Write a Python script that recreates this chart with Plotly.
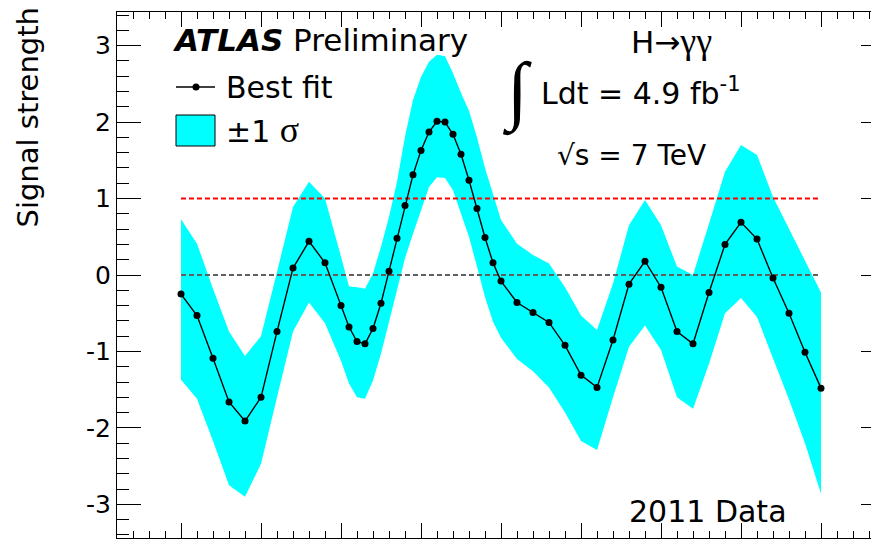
import plotly.graph_objects as go

# ---- data ----
mass = [110, 111, 112, 113, 114, 115, 116, 117, 118, 119,
        120, 120.5, 121, 121.5, 122, 122.5, 123, 123.5, 124, 124.5,
        125, 125.5, 126, 126.5, 127, 127.5, 128, 128.5, 129, 129.5,
        130, 131, 132, 133, 134, 135, 136, 137, 138, 139,
        140, 141, 142, 143, 144, 145, 146, 147, 148, 149, 150]

best_fit = [-0.25, -0.53, -1.09, -1.66, -1.91, -1.60, -0.74, 0.09, 0.44, 0.16,
            -0.40, -0.68, -0.87, -0.90, -0.70, -0.37, 0.05, 0.48, 0.91, 1.31,
            1.63, 1.87, 2.01, 2.00, 1.84, 1.58, 1.24, 0.87, 0.49, 0.16,
            -0.08, -0.36, -0.49, -0.62, -0.92, -1.31, -1.47, -0.85, -0.12, 0.18,
            -0.16, -0.74, -0.90, -0.23, 0.40, 0.69, 0.47, -0.04, -0.50, -1.01, -1.48]

band_up = [0.73, 0.41, -0.18, -0.74, -1.06, -0.80, 0.04, 0.89, 1.22, 1.00,
           0.24, -0.15, -0.16, -0.18, 0.02, 0.37, 0.76, 1.22, 1.81, 2.29,
           2.59, 2.79, 2.88, 2.86, 2.64, 2.38, 2.15, 1.80, 1.40, 1.05,
           0.72, 0.41, 0.26, 0.15, -0.16, -0.53, -0.72, -0.11, 0.65, 0.98,
           0.65, 0.11, 0.00, 0.67, 1.35, 1.70, 1.57, 1.02, 0.61, 0.19, -0.23]

band_lo = [-1.37, -1.62, -2.17, -2.75, -2.90, -2.47, -1.60, -0.74, -0.36, -0.63,
           -1.12, -1.42, -1.60, -1.62, -1.38, -1.03, -0.63, -0.20, 0.22, 0.54,
           0.85, 1.15, 1.28, 1.27, 1.11, 0.80, 0.50, 0.11, -0.29, -0.61,
           -0.82, -1.10, -1.26, -1.47, -1.80, -2.17, -2.29, -1.60, -0.94, -0.66,
           -0.98, -1.60, -1.75, -1.16, -0.50, -0.30, -0.55, -1.10, -1.63, -2.20, -2.86]

ref_x = [110, 150]
sm_line = [1, 1]
bkg_line = [0, 0]

y_ticks = [-3, -2, -1, 0, 1, 2, 3]
y_ticktext = ["-3", "-2", "-1", "0", "1", "2", "3"]

# ---- layout geometry ----
# The page body has an 8px margin, so the figure sits 8px right/down of the
# screenshot origin.  Geometry below is given in screenshot pixels.
OFF = 8
W, H = 879, 539
SL, SR, ST, SB = 117, 885, 12, 538   # plot frame in screenshot pixels


def px(sx):
    return (sx - SL) / (SR - SL)


def py(sy):
    return (SB - sy) / (SB - ST)


FONT = "DejaVu Sans"
SERIF = "Liberation Serif"

fig = go.Figure()

fig.add_trace(go.Scatter(
    x=mass + mass[::-1], y=band_up + band_lo[::-1],
    fill="toself", fillcolor="#00ffff", mode="lines",
    line=dict(width=0, color="#00ffff"), hoverinfo="skip", name="±1 σ"))

fig.add_trace(go.Scatter(
    x=ref_x, y=sm_line, mode="lines",
    line=dict(color="#ff0000", width=2, dash="5px,3px"), name="SM"))
fig.add_trace(go.Scatter(
    x=ref_x, y=bkg_line, mode="lines",
    line=dict(color="#606060", width=2.2, dash="5px,3px"), name="bkg"))

fig.add_trace(go.Scatter(
    x=mass, y=best_fit, mode="lines+markers",
    line=dict(color="black", width=1.4),
    marker=dict(color="black", size=7), name="Best fit"))

shapes = [
    dict(type="line", xref="paper", yref="paper",
         x0=px(176), x1=px(215), y0=py(87), y1=py(87),
         line=dict(color="black", width=1.4)),
    dict(type="circle", xref="paper", yref="paper",
         x0=px(192.5), x1=px(199.5), y0=py(90.5), y1=py(83.5),
         fillcolor="black", line=dict(color="black", width=0)),
    dict(type="rect", xref="paper", yref="paper",
         x0=px(176), x1=px(215), y0=py(146), y1=py(115),
         fillcolor="#00ffff", line=dict(color="black", width=1)),
]


def ann(text, x, y_base, size, family=FONT, anchor="left"):
    return dict(text=text, x=px(x), y=py(y_base - 0.346 * size),
                xref="paper", yref="paper", xanchor=anchor, yanchor="middle",
                showarrow=False, font=dict(family=family, size=size, color="black"))


annotations = [
    ann("<b><i>ATLAS</i></b> Preliminary", 170, 51, 31),
    ann("Best fit", 224, 97.5, 30),
    ann("±1 <span style='font-family:Liberation Serif;font-size:36px'>σ</span>", 224, 140, 30),
    ann("H→<span style='font-family:Liberation Serif;font-size:36px'>γγ</span>", 629, 51.5, 31),
    ann("Ldt = 4.9 fb<sup>-1</sup>", 539, 101.5, 30),
    ann("√s = 7 TeV", 555, 165, 28),
    ann("2011 Data", 627, 521.5, 30),
    dict(text="<b>∫</b>", x=px(517), y=py(92), xref="paper", yref="paper",
         xanchor="center", yanchor="middle", showarrow=False,
         font=dict(family=SERIF, size=76, color="black")),
    dict(text="Signal strength", x=px(27), y=py(117.5), xref="paper", yref="paper",
         xanchor="center", yanchor="middle", showarrow=False, textangle=-90,
         font=dict(family=FONT, size=29, color="black")),
]

fig.update_layout(
    width=W, height=H,
    margin=dict(l=SL - OFF, r=W - (SR - OFF), t=ST - OFF, b=H - (SB - OFF), pad=0),
    paper_bgcolor="white", plot_bgcolor="white",
    showlegend=False,
    shapes=shapes, annotations=annotations,
    xaxis=dict(
        range=[106, 154],
        showline=True, linecolor="black", linewidth=1.2, mirror="ticks",
        ticks="inside", ticklen=15, tickwidth=1, tickcolor="black",
        tick0=110, dtick=5, showticklabels=False,
        showgrid=False, zeroline=False,
        minor=dict(tick0=110, dtick=1, ticks="inside", ticklen=7,
                   tickwidth=1, tickcolor="black", showgrid=False),
    ),
    yaxis=dict(
        range=[-3.44, 3.44],
        showline=True, linecolor="black", linewidth=1.2, mirror="ticks",
        ticks="inside", ticklen=24, tickwidth=1, tickcolor="black",
        tickvals=y_ticks, ticktext=y_ticktext,
        tickfont=dict(family=FONT, size=25, color="black"),
        showgrid=False, zeroline=False,
        minor=dict(tick0=0, dtick=0.2, ticks="inside", ticklen=12,
                   tickwidth=1, tickcolor="black", showgrid=False),
    ),
)

fig.write_html("out.html")
